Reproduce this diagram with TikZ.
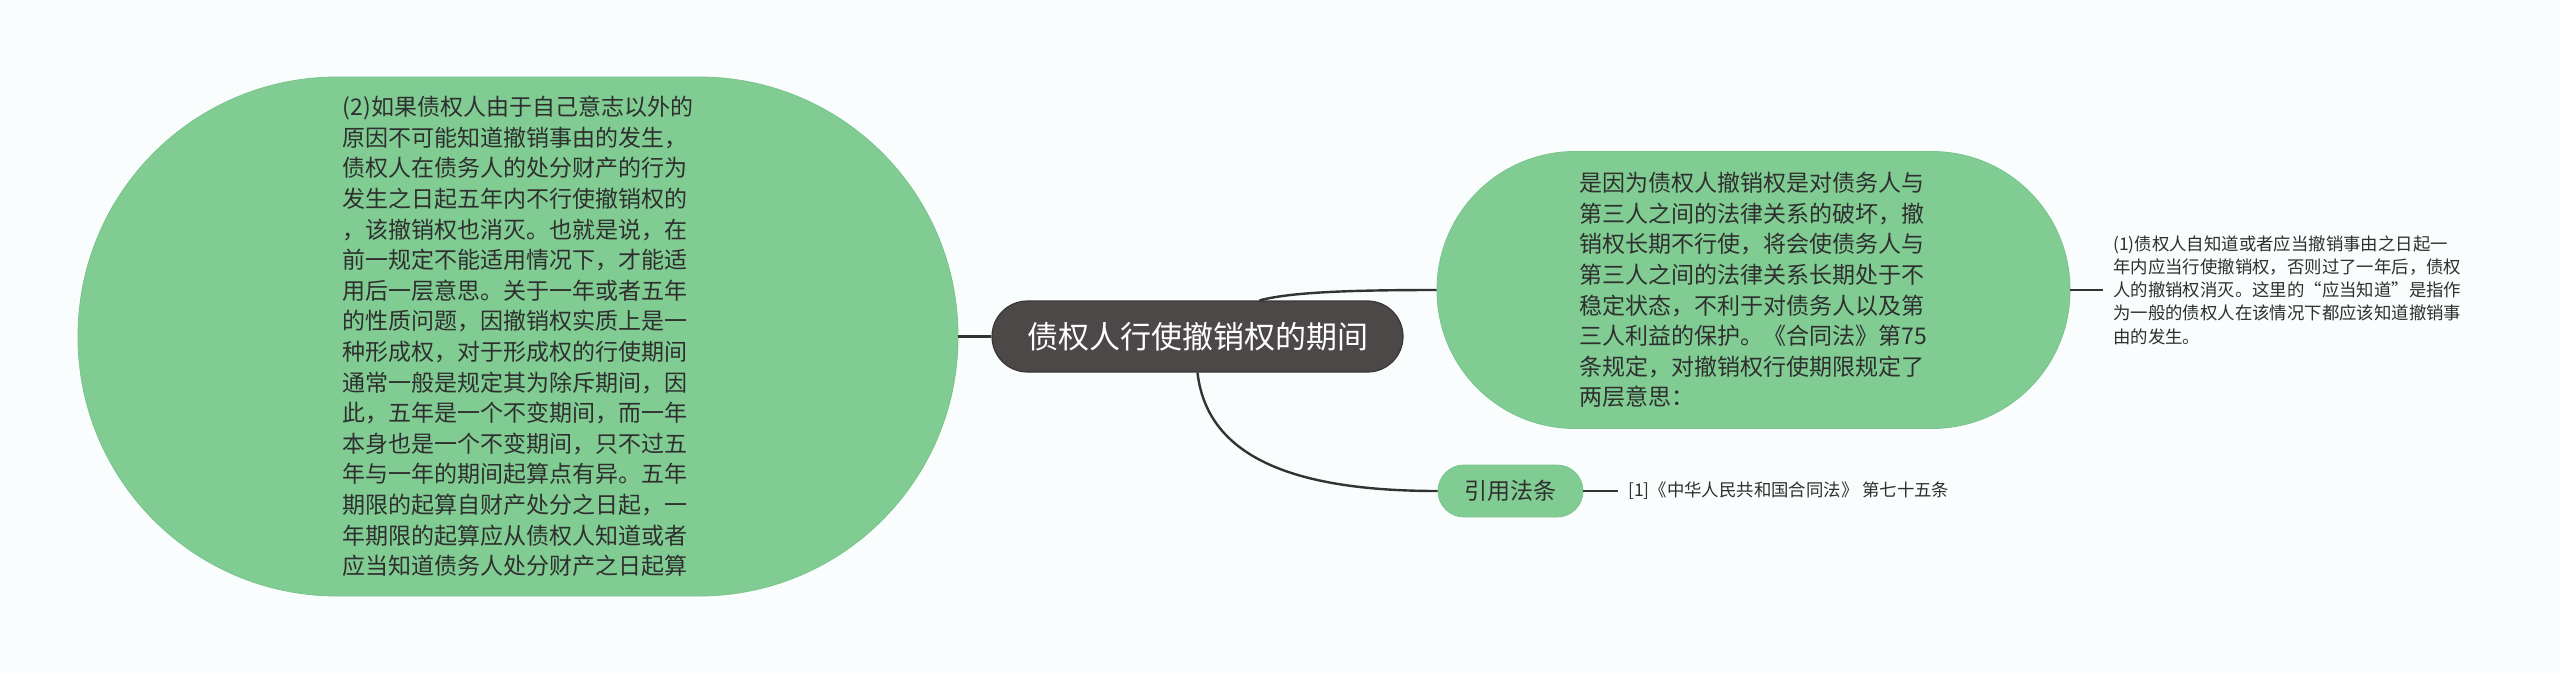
\documentclass[tikz,border=0pt]{standalone}
\usepackage{fontspec}
\newfontfamily\cjk{Noto Sans CJK SC}
\definecolor{bgc}{HTML}{FAFDFE}
\definecolor{grn}{HTML}{80CC93}
\definecolor{grnd}{HTML}{78C48B}
\definecolor{dark}{HTML}{4D4848}
\definecolor{darkb}{HTML}{3A3636}
\definecolor{txt}{HTML}{2F2F2F}
\definecolor{linec}{HTML}{333333}
\begin{document}
\begin{tikzpicture}[x=1pt,y=-1pt,
  gnode/.style={fill=grn, draw=grnd, line width=0.8pt, text=txt, align=left, inner sep=0pt},
  bigfont/.style={font=\cjk\fontsize{23}{30.6}\selectfont},
  cnode/.style={fill=dark, draw=darkb, line width=1.2pt, text=white, inner sep=0pt,
    minimum width=411pt, minimum height=71pt, rounded corners=35.5pt,
    font=\cjk\fontsize{31}{36}\selectfont},
  notetext/.style={text=txt, align=left, inner xsep=10pt, inner ysep=0pt,
    font=\cjk\fontsize{17.4}{23.2}\selectfont},
  conn/.style={draw=linec, line width=2.4pt}]
\fill[bgc] (0,0) rectangle (2560,673);
\useasboundingbox (0,0) rectangle (2560,673);

\node[gnode, bigfont, minimum width=880pt, minimum height=519pt, rounded corners=259pt] (left) at (518,336.5)
{(2)如果债权人由于自己意志以外的\\原因不可能知道撤销事由的发生，\\债权人在债务人的处分财产的行为\\发生之日起五年内不行使撤销权的\\，该撤销权也消灭。也就是说，在\\前一规定不能适用情况下，才能适\\用后一层意思。关于一年或者五年\\的性质问题，因撤销权实质上是一\\种形成权，对于形成权的行使期间\\通常一般是规定其为除斥期间，因\\此，五年是一个不变期间，而一年\\本身也是一个不变期间，只不过五\\年与一年的期间起算点有异。五年\\期限的起算自财产处分之日起，一\\年期限的起算应从债权人知道或者\\应当知道债务人处分财产之日起算};

\node[cnode] (c) at (1197.5,336.5) {债权人行使撤销权的期间};

\node[gnode, bigfont, minimum width=633pt, minimum height=277pt, rounded corners=138pt] (right) at (1753.5,290)
{是因为债权人撤销权是对债务人与\\第三人之间的法律关系的破坏，撤\\销权长期不行使，将会使债务人与\\第三人之间的法律关系长期处于不\\稳定状态，不利于对债务人以及第\\三人利益的保护。《合同法》第75\\条规定，对撤销权行使期限规定了\\两层意思：};

\node[gnode, bigfont, align=center, minimum width=145pt, minimum height=52pt, rounded corners=26pt] (cite) at (1510.5,491) {引用法条};

\node[notetext, anchor=west] (n1) at (2103,290)
{(1)债权人自知道或者应当撤销事由之日起一\\年内应当行使撤销权，否则过了一年后，债权\\人的撤销权消灭。这里的“应当知道”是指作\\为一般的债权人在该情况下都应该知道撤销事\\由的发生。};

\node[notetext, anchor=west] (ref) at (1618,491) {[1]《中华人民共和国合同法》 第七十五条};

\draw[conn] (c.west) -- (left.east);
\draw[conn] ([xshift=62pt]c.north) .. controls +(30,-8) and +(-90,0) .. (right.west);
\draw[conn] (c.south) .. controls +(10,88) and +(-137,0) .. (cite.west);
\draw[conn] (right.east) -- (n1.west);
\draw[conn] (cite.east) -- (ref.west);
\end{tikzpicture}
\end{document}
